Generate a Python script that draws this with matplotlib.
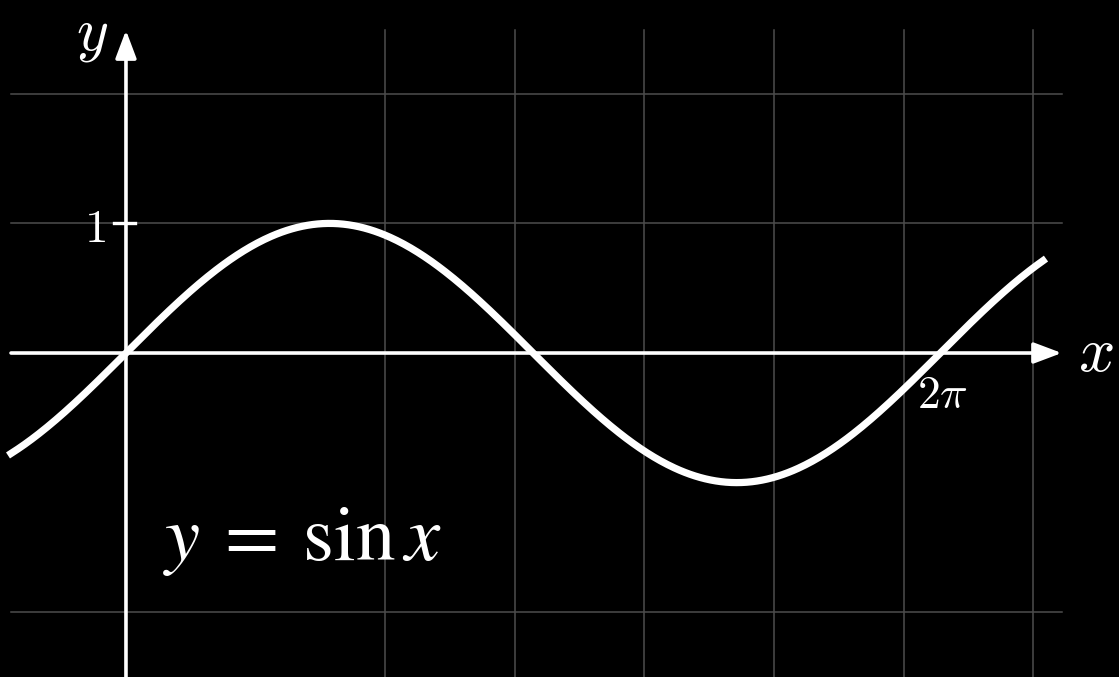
import numpy as np
import matplotlib.pyplot as plt

# curve y = sin x, drawn over the visible range
x_start, x_end = -0.887, 7.076
grid_x = [2, 3, 4, 5, 6, 7]
grid_y = [2, 1, -2]
y_tick_value = 1
y_tick_label = r"$1$"
x_mark_value = 2 * np.pi
x_mark_label = r"$2\pi$"
curve_label = r"$y\:=\:\sin x$"

xs = np.linspace(x_start, x_end, 600)
ys = np.sin(xs)

fig = plt.figure(figsize=(11.19, 6.77), dpi=100, facecolor="black")
ax = fig.add_axes([0, 0, 1, 1], facecolor="black")
ax.set_xlim(-0.972, 7.662)
ax.set_ylim(-2.5, 2.724)
ax.axis("off")

# grid
for gx in grid_x:
    ax.plot([gx, gx], [-2.6, 2.496], color="#4d4d4d", lw=1.1, zorder=1)
for gy in grid_y:
    ax.plot([-0.887, 7.22], [gy, gy], color="#4d4d4d", lw=1.1, zorder=1)

# axes with arrows
arrow = dict(arrowstyle="-|>,head_length=0.85,head_width=0.32", color="white",
             lw=2.6, shrinkA=0, shrinkB=0, mutation_scale=20)
ax.annotate("", xy=(7.22, 0), xytext=(-0.887, 0), arrowprops=arrow, zorder=3)
ax.annotate("", xy=(0, 2.49), xytext=(0, -2.6), arrowprops=arrow, zorder=3)

# tick at y = 1
ax.plot([-0.093, 0.07], [y_tick_value, y_tick_value], color="white", lw=2.4, zorder=3)

ax.plot(xs, ys, color="white", lw=5.2, zorder=4)

ax.text(-0.154, 0.95, y_tick_label, color="white", fontsize=34, ha="right",
        va="center", math_fontfamily="cm")
ax.text(6.30, -0.324, x_mark_label, color="white", fontsize=33, ha="center",
        va="center", math_fontfamily="cm", zorder=5)
ax.text(-0.26, 2.46, r"$y$", color="white", fontsize=44, ha="center",
        va="center", math_fontfamily="cm")
ax.text(7.485, 0.0, r"$x$", color="white", fontsize=46, ha="center",
        va="center", math_fontfamily="cm")
ax.text(0.285, -1.597, curve_label, color="white", fontsize=57, ha="left",
        va="baseline", math_fontfamily="stix")

fig.savefig("out.png", dpi=100, facecolor="black")
